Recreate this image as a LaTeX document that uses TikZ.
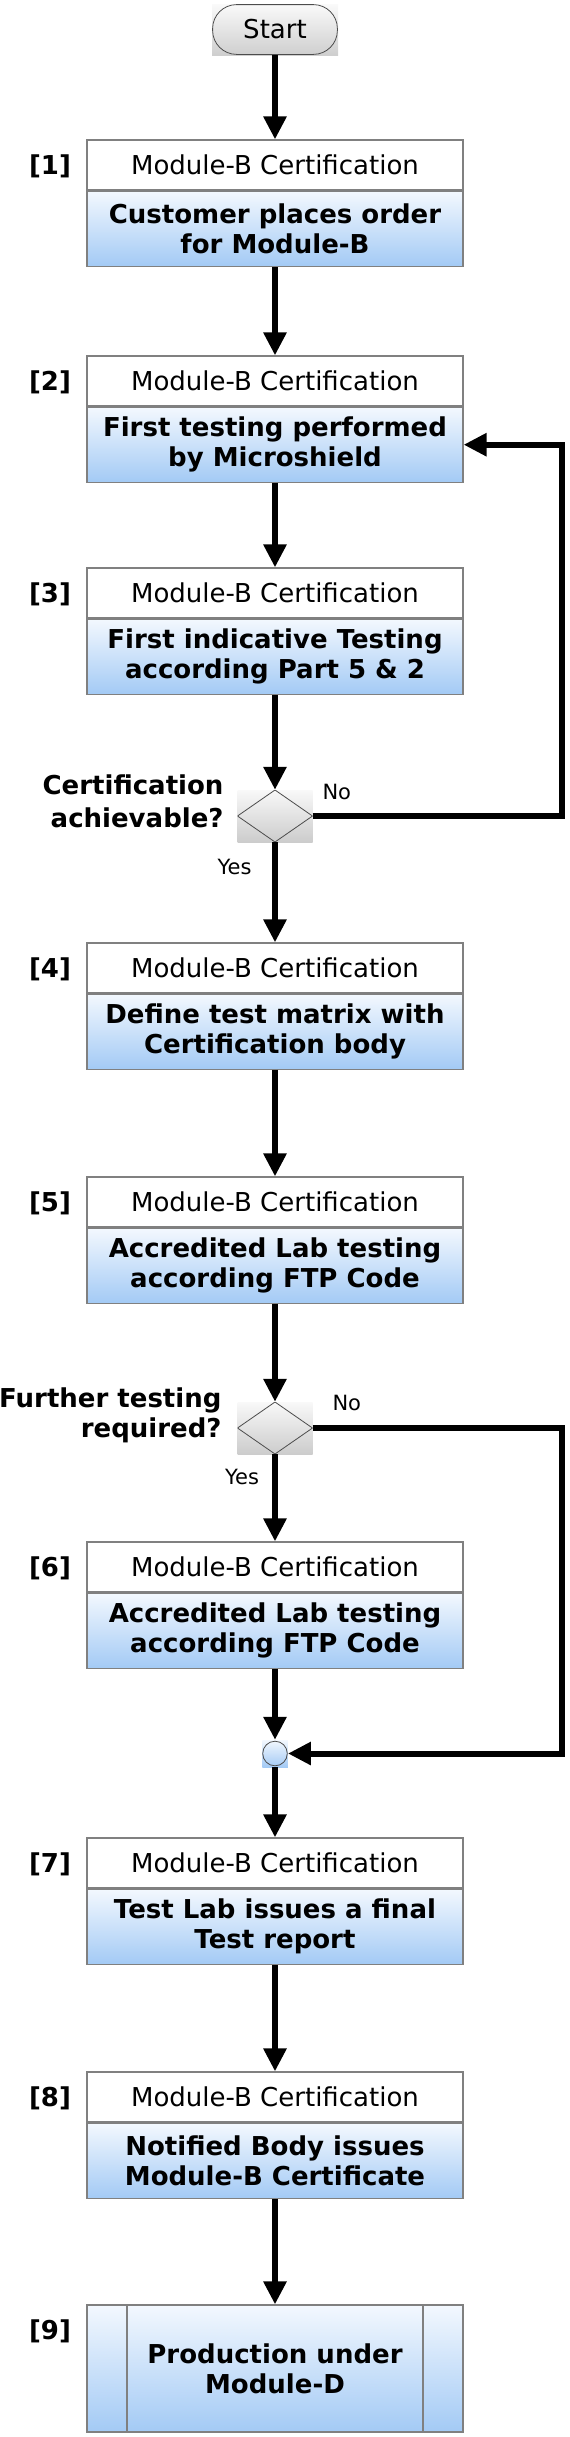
\documentclass[tikz,border=0pt]{standalone}
\usepackage{fontspec}
\setmainfont{DejaVu Sans}
\usepackage{tikz}
\usetikzlibrary{arrows.meta,positioning}

\definecolor{boxblue}{RGB}{163,202,245}
\definecolor{boxpale}{RGB}{243,248,254}
\definecolor{edgegray}{RGB}{128,128,128}

\begin{document}
\begin{tikzpicture}[x=1pt,y=1pt,
    font=\fontsize{26}{30}\selectfont,
    head/.style={draw=edgegray, line width=1.2pt, fill=white, minimum width=376pt, minimum height=50pt, inner sep=0pt},
    body/.style={draw=edgegray, line width=1.2pt, top color=boxpale, bottom color=boxblue, minimum width=376pt, minimum height=75pt, inner sep=0pt, align=center, font=\fontsize{26}{30}\selectfont\bfseries},
    stepno/.style={font=\fontsize{26}{30}\selectfont\bfseries},
    yn/.style={font=\fontsize{21}{24}\selectfont},
    flow/.style={line width=6pt, -{Triangle[width=22pt,length=23pt]}},
    term/.style={minimum width=126pt, minimum height=51pt, inner sep=0pt, top color=gray!4, bottom color=gray!38,
        path picture={\draw[black!70, line width=0.8pt, rounded corners=24pt] ([shift={(0.6pt,0.6pt)}]path picture bounding box.south west) rectangle ([shift={(-0.6pt,-0.6pt)}]path picture bounding box.north east);}},
    decide/.style={minimum width=75pt, minimum height=52pt, inner sep=0pt, top color=gray!5, bottom color=gray!40,
        path picture={\draw[black!70, line width=0.8pt] (path picture bounding box.north) -- (path picture bounding box.east) -- (path picture bounding box.south) -- (path picture bounding box.west) -- cycle;}},
    mergept/.style={minimum width=25.5pt, minimum height=27pt, inner sep=0pt, top color=boxpale, bottom color=boxblue,
        path picture={\draw[black!70, line width=0.8pt] (path picture bounding box.center) circle (12.3pt);}},
    process/.style={draw=edgegray, line width=1.2pt, top color=boxpale, bottom color=boxblue, minimum width=376pt, minimum height=127pt, inner sep=0pt, align=center, font=\fontsize{26}{30}\selectfont\bfseries,
        path picture={\draw[edgegray, line width=1.2pt] ([xshift=40pt]path picture bounding box.south west) -- ([xshift=40pt]path picture bounding box.north west)
            ([xshift=-40pt]path picture bounding box.south east) -- ([xshift=-40pt]path picture bounding box.north east);}}]
    \useasboundingbox (0,0) rectangle (570,-2437);

    \node[term] (start) at (275,-29.5) {Start};

    % certification steps
    \foreach \n/\y/\txt in {1/140/{Customer places order\\for Module-B},
                            2/356/{First testing performed\\by Microshield},
                            3/568/{First indicative Testing\\according Part 5 \& 2},
                            4/943/{Define test matrix with\\Certification body},
                            5/1177/{Accredited Lab testing\\according FTP Code},
                            6/1542/{Accredited Lab testing\\according FTP Code},
                            7/1838/{Test Lab issues a final\\Test report},
                            8/2072/{Notified Body issues\\Module-B Certificate}} {
        \node[head] (h\n) at (275,-\y-25) {Module-B Certification};
        \node[body, below=0pt of h\n] (b\n) {\txt};
        \node[stepno] (n\n) at (50,-\y-26) {[\n]};
    }
    \node[process] (p9) at (275,-2368.5) {Production under\\Module-D};
    \node[stepno] (n9) at (50,-2331) {[9]};

    % decisions
    \node[decide] (d1) at (275,-816) {};
    \node[decide] (d2) at (275,-1428) {};
    \node[mergept] (mg) at (275,-1753.5) {};
    \node[stepno, align=right, anchor=east, font=\fontsize{26}{33}\selectfont\bfseries] (q1) at (227,-801) {Certification\\achievable?};
    \node[stepno, align=right, anchor=east] (q2) at (225,-1415) {Further testing\\required?};
    \node[yn, anchor=west] (no1) at (319,-792) {No};
    \node[yn] (yes1) at (234.5,-867) {Yes};
    \node[yn, anchor=west] (no2) at (329,-1403) {No};
    \node[yn] (yes2) at (242,-1477) {Yes};
    \coordinate (rt) at (562,0);

    % arrows
    \draw[flow] (start) -- (h1);
    \foreach \a/\b in {b1/h2, b2/h3, b3/d1, d1/h4, b4/h5, b5/d2, d2/h6, b6/mg, mg/h7, b7/h8, b8/p9}
        \draw[flow] (\a) -- (\b);
    \draw[flow] (d1.east) -- (d1.east -| rt) |- (b2.east);
    \draw[flow] (d2.east) -- (d2.east -| rt) |- (mg.east);
\end{tikzpicture}
\end{document}
